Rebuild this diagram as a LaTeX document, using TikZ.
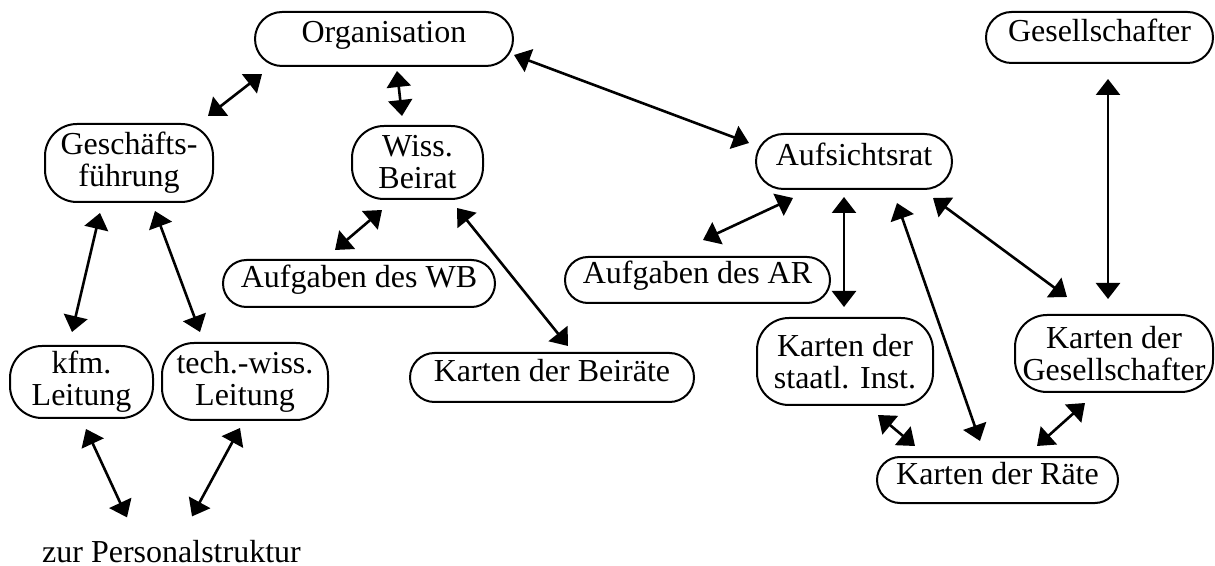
\documentclass[tikz,border=0pt]{standalone}
\usepackage{fontspec}
\setmainfont{Liberation Serif}
\usetikzlibrary{arrows.meta,calc,shapes.misc}

\begin{document}
\begin{tikzpicture}[
    x=0.5pt, y=-0.5pt,
    >={Triangle[length=8pt,width=12pt]},
    box/.style={rounded rectangle, draw, line width=1pt, inner sep=0pt, text height=0.7em, text depth=0.3em, font=\fontsize{16}{16}\selectfont},
    box2/.style={rectangle, draw, line width=1pt, rounded corners=16pt, inner sep=0pt, align=center, font=\fontsize{16}{16}\selectfont},
    note/.style={inner sep=0pt, anchor=base, font=\fontsize{16}{16}\selectfont},
    dbl_arrow/.style={<->, line width=1.3pt}
]
    \useasboundingbox (0,0) rectangle (1215,566);
    % Top
    \node[box, minimum width=129pt, minimum height=27pt] (org) at (384,39) {Organisation};
    \node[box, minimum width=113.5pt, minimum height=25.5pt] (gesell) at (1099.5,37.5) {Gesellschafter};
    % Second row
    \node[box2, minimum width=84pt, minimum height=39pt] (gf) at (129,163) {Geschäfts-\\führung};
    \node[box2, minimum width=65.5pt, minimum height=36.5pt] (wiss) at (417.5,162.5) {Wiss.\\Beirat};
    \node[box, minimum width=98pt, minimum height=27.5pt] (ar) at (854,161.5) {Aufsichtsrat};
    % Tasks
    \node[box, minimum width=136pt, minimum height=23.5pt] (awb) at (359,283.5) {Aufgaben des WB};
    \node[box, minimum width=132.5pt, minimum height=23pt] (aar) at (697.5,280) {Aufgaben des AR};
    % Leitung
    \node[box2, minimum width=71.5pt, minimum height=36pt] (kfm) at (81.5,382) {kfm.\\Leitung};
    \node[box2, minimum width=83pt, minimum height=38.5pt] (tech) at (245,381.5) {tech.-wiss.\\Leitung};
    % Karten
    \node[box, minimum width=142pt, minimum height=24.5pt] (kdb) at (552,377.5) {Karten der Beiräte};
    \node[box2, minimum width=88pt, minimum height=43.5pt] (kdsi) at (845,361.5) {Karten der\\staatl. Inst.};
    \node[box2, minimum width=99pt, minimum height=38.5pt] (kdg) at (1114,353.5) {Karten der\\Gesellschafter};
    \node[box, minimum width=120.5pt, minimum height=23pt] (kdr) at (997.5,480) {Karten der Räte};
    % Personal
    \node[note] (zur) at (171.5,562) {zur Personalstruktur};
    % Arrows
    \draw[dbl_arrow] ($(org.south)+(-122,7)$) -- ($(gf.north east)+(-6,-7)$);
    \draw[dbl_arrow] ($(org.south)+(13,4)$) -- ($(wiss.north)+(-15.5,-9)$);
    \draw[dbl_arrow] ($(org.east)+(0,16)$) -- ($(ar.west)+(-6,-18.5)$);
    \draw[dbl_arrow] ($(gesell.south)+(8.5,15)$) -- ($(kdg.north)+(-6,-15)$);
    \draw[dbl_arrow] ($(gf.south)+(-29,10)$) -- ($(kfm.north)+(-9.5,-13)$);
    \draw[dbl_arrow] ($(gf.south)+(26,8)$) -- ($(tech.north)+(-45,-10)$);
    \draw[dbl_arrow] ($(wiss.south)+(-35.5,10)$) -- ($(awb.north)+(-24,-9)$);
    \draw[dbl_arrow] ($(wiss.south)+(39.5,8)$) -- ($(kdb.north)+(16,-6)$);
    \draw[dbl_arrow] ($(ar.south)+(-61,8)$) -- ($(aar.north)+(5.5,-16)$);
    \draw[dbl_arrow] ($(ar.south)+(-10,7)$) -- ($(kdsi.north)+(-1,-10)$);
    \draw[dbl_arrow] ($(ar.south)+(43,13)$) -- ($(kdr.north)+(-17.5,-15)$);
    \draw[dbl_arrow] ($(ar.south)+(79,8)$) -- ($(kdg.north)+(-47,-17)$);
    \draw[dbl_arrow] ($(kdsi.south)+(33,9)$) -- ($(kdr.north)+(-82.5,-10)$);
    \draw[dbl_arrow] ($(kdg.south)+(-29,10)$) -- ($(kdr.north)+(39.5,-10)$);
    \draw[dbl_arrow] ($(kfm.south)+(4.5,10)$) -- ($(zur.north)+(-44.5,-22)$);
    \draw[dbl_arrow] ($(tech.south)+(-5,7)$) -- ($(zur.north)+(20.5,-23)$);
\end{tikzpicture}
\end{document}
